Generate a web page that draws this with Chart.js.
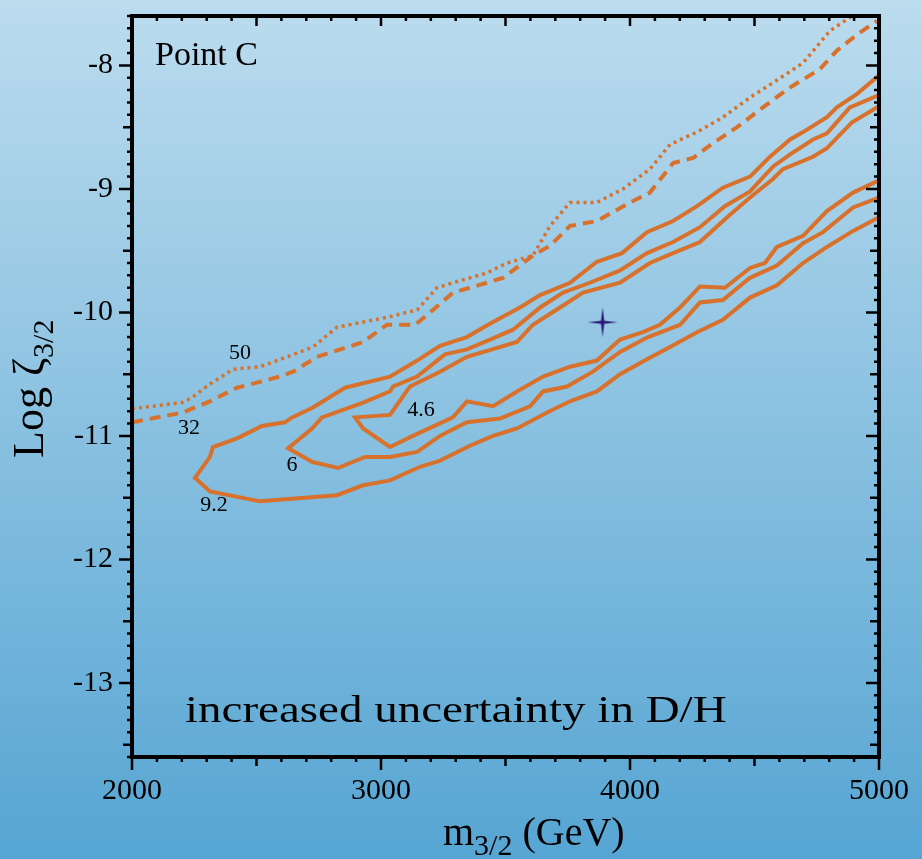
<!DOCTYPE html>
<html>
<head>
<meta charset="utf-8">
<title>Point C</title>
<script src="https://cdn.jsdelivr.net/npm/chart.js@4.4.0/dist/chart.umd.min.js"></script>
<style>
  html, body { margin: 0; padding: 0; overflow: hidden; }
  canvas { display: block; }
</style>
</head>
<body>
<canvas id="myChart" width="922" height="859"></canvas>
<script>
// axis ticks
const xTicks = [2000, 3000, 4000, 5000];
const yTicks = [-13, -12, -11, -10, -9, -8];

// contours, [m3/2 (GeV), log zeta3/2]
const contour50 = [
  [2000,-10.78],[2201,-10.73],[2241,-10.69],[2313,-10.58],[2406,-10.46],[2514,-10.44],
  [2622,-10.36],[2727,-10.28],[2823,-10.12],[3024,-10.04],[3145,-9.98],[3225,-9.80],
  [3289,-9.76],[3426,-9.68],[3506,-9.60],[3610,-9.54],[3679,-9.30],[3759,-9.11],
  [3867,-9.11],[3972,-9.00],[4080,-8.84],[4161,-8.64],[4269,-8.54],[4373,-8.42],
  [4482,-8.26],[4590,-8.12],[4695,-7.98],[4803,-7.72],[4892,-7.60]
];
const contour32 = [
  [2000,-10.89],[2205,-10.81],[2313,-10.72],[2422,-10.61],[2594,-10.52],[2647,-10.48],
  [2743,-10.36],[2928,-10.24],[3024,-10.10],[3137,-10.10],[3197,-10.00],[3289,-9.84],
  [3426,-9.76],[3490,-9.72],[3610,-9.54],[3679,-9.46],[3759,-9.30],[3867,-9.26],
  [4000,-9.11],[4080,-9.03],[4173,-8.79],[4253,-8.75],[4333,-8.63],[4430,-8.50],
  [4534,-8.34],[4642,-8.18],[4763,-8.03],[4831,-7.88],[4912,-7.75],[4992,-7.64]
];
const contour9_2 = [
  [5000,-8.08],[4912,-8.23],[4831,-8.34],[4791,-8.42],[4695,-8.54],[4643,-8.60],
  [4562,-8.74],[4482,-8.90],[4373,-8.99],[4269,-9.14],[4173,-9.26],[4068,-9.35],
  [3968,-9.52],[3867,-9.59],[3759,-9.76],[3639,-9.86],[3558,-9.96],[3430,-10.10],
  [3345,-10.20],[3237,-10.27],[3145,-10.39],[3036,-10.52],[2855,-10.61],[2727,-10.77],
  [2643,-10.85],[2614,-10.89],[2522,-10.92],[2422,-11.02],[2325,-11.09],[2313,-11.17],
  [2253,-11.34],
  [2313,-11.45],[2514,-11.53],[2823,-11.48],[2928,-11.40],[3036,-11.36],[3157,-11.25],
  [3237,-11.20],[3357,-11.08],[3450,-11.00],[3546,-10.94],[3667,-10.81],[3759,-10.72],
  [3867,-10.64],[3960,-10.50],[4068,-10.38],[4161,-10.28],[4269,-10.16],[4373,-10.06],
  [4482,-9.88],[4590,-9.78],[4695,-9.60],[4791,-9.47],[4896,-9.34],[5000,-9.23]
];
const contour6 = [
  [5000,-8.24],[4883,-8.34],[4791,-8.55],[4735,-8.60],[4643,-8.72],[4574,-8.82],
  [4482,-9.02],[4381,-9.14],[4281,-9.31],[4173,-9.43],[4068,-9.52],[3960,-9.66],
  [3839,-9.76],[3731,-9.84],[3639,-9.96],[3530,-10.14],[3438,-10.22],[3345,-10.30],
  [3257,-10.34],[3145,-10.52],[3048,-10.60],[3036,-10.64],[2928,-10.73],[2763,-10.85],
  [2723,-10.94],[2627,-11.10],
  [2723,-11.21],[2827,-11.26],[2936,-11.17],[3036,-11.17],[3145,-11.13],[3237,-11.00],
  [3345,-10.89],[3478,-10.86],[3598,-10.76],[3651,-10.64],[3747,-10.60],[3851,-10.48],
  [3960,-10.32],[4072,-10.20],[4201,-10.10],[4281,-9.92],[4373,-9.90],[4482,-9.72],
  [4590,-9.62],[4695,-9.44],[4775,-9.35],[4896,-9.15],[5000,-9.07]
];
const contour4_6 = [
  [5000,-8.33],[4892,-8.46],[4791,-8.67],[4735,-8.74],[4614,-8.84],[4574,-8.92],
  [4482,-9.07],[4390,-9.23],[4281,-9.43],[4173,-9.52],[4080,-9.60],[3960,-9.76],
  [3811,-9.84],[3719,-9.96],[3610,-10.10],[3546,-10.24],[3345,-10.36],[3237,-10.48],
  [3116,-10.60],[3036,-10.83],[2896,-10.85],
  [2928,-10.94],[3036,-11.09],[3128,-11.00],[3289,-10.85],[3345,-10.72],[3450,-10.76],
  [3546,-10.64],[3651,-10.52],[3759,-10.44],[3867,-10.39],[3960,-10.22],[4052,-10.16],
  [4120,-10.10],[4201,-9.96],[4281,-9.79],[4381,-9.80],[4482,-9.64],[4542,-9.60],
  [4590,-9.47],[4695,-9.38],[4791,-9.18],[4896,-9.03],[5000,-8.93]
];

// best fit point
const bestFit = [[3890, -10.08]];

// contour labels and where they sit (data coords)
const contourLabels = ['50', '32', '9.2', '6', '4.6'];
const labelSpots = [[2434,-10.33],[2229,-10.94],[2329,-11.56],[2643,-11.24],[3161,-10.79]];

const ORANGE = '#d8712b';
const SERIF = '"Liberation Serif", "Times New Roman", serif';

function toXY(arr){
  return arr.map(p => ({x: p[0], y: p[1]}));
}

// thin four pointed star for the best fit marker
function makeStar(){
  const c = document.createElement('canvas');
  c.width = 34; c.height = 34;
  const g = c.getContext('2d');
  const m = 17, r = 15, w = 1.6;
  g.fillStyle = '#2a1577';
  g.beginPath();
  g.moveTo(m, m - r);
  g.lineTo(m + w, m - w);
  g.lineTo(m + r, m);
  g.lineTo(m + w, m + w);
  g.lineTo(m, m + r);
  g.lineTo(m - w, m + w);
  g.lineTo(m - r, m);
  g.lineTo(m - w, m - w);
  g.closePath();
  g.fill();
  return c;
}

const frame = {
  id: 'frame',
  beforeDraw(chart){
    const {ctx, width, height} = chart;
    const grad = ctx.createLinearGradient(0, 0, 0, height);
    grad.addColorStop(0, '#bcdcee');
    grad.addColorStop(1, '#56a5d3');
    ctx.save();
    ctx.fillStyle = grad;
    ctx.fillRect(0, 0, width, height);
    ctx.restore();
  },
  afterDatasetsDraw(chart){
    const {ctx, chartArea: a, scales: {x, y}} = chart;
    ctx.save();
    ctx.strokeStyle = '#000';
    ctx.lineWidth = 2.5;
    ctx.beginPath();
    for (let v = 2000; v <= 5000; v += 100){
      const px = x.getPixelForValue(v);
      const down = v % 1000 === 0 ? 13 : v % 500 === 0 ? 9 : 5;
      const up = v % 500 === 0 ? 10 : 5;
      ctx.moveTo(px, a.bottom); ctx.lineTo(px, a.bottom + down);
      ctx.moveTo(px, a.top); ctx.lineTo(px, a.top + up);
    }
    for (let k = -136; k <= -76; k++){
      const py = y.getPixelForValue(k / 10);
      const len = k % 10 === 0 ? 13 : k % 5 === 0 ? 9 : 5;
      ctx.moveTo(a.left, py); ctx.lineTo(a.left - len, py);
      ctx.moveTo(a.right, py); ctx.lineTo(a.right - len, py);
    }
    ctx.stroke();
    ctx.lineWidth = 4;
    ctx.strokeRect(a.left, a.top, a.right - a.left, a.bottom - a.top);
    ctx.restore();
  }
};

const texts = {
  id: 'texts',
  afterDraw(chart){
    const {ctx, chartArea: a, scales: {x, y}} = chart;
    ctx.save();
    ctx.fillStyle = '#000';

    // contour values
    ctx.textAlign = 'center';
    ctx.textBaseline = 'middle';
    ctx.font = '22px ' + SERIF;
    contourLabels.forEach((t, i) => {
      ctx.fillText(t, x.getPixelForValue(labelSpots[i][0]), y.getPixelForValue(labelSpots[i][1]));
    });

    ctx.textAlign = 'left';
    ctx.textBaseline = 'alphabetic';
    ctx.font = '34px ' + SERIF;
    ctx.fillText('Point C', a.left + 23, a.top + 49);

    ctx.save();
    ctx.translate(a.left + 53, a.top + 706);
    ctx.scale(1, 0.8);
    ctx.font = '47px ' + SERIF;
    ctx.fillText('increased uncertainty in D/H', 0, 0);
    ctx.restore();

    // x title with subscript
    let cx = a.left + 311;
    const by = a.bottom + 88;
    ctx.font = '40px ' + SERIF;
    ctx.fillText('m', cx, by);
    cx += ctx.measureText('m').width;
    ctx.font = '30px ' + SERIF;
    ctx.fillText('3/2', cx, by + 10);
    cx += ctx.measureText('3/2').width;
    ctx.font = '40px ' + SERIF;
    ctx.fillText(' (GeV)', cx, by);

    // y title, rotated
    ctx.save();
    ctx.translate(a.left - 89, a.top + 442);
    ctx.rotate(-Math.PI / 2);
    ctx.font = '44px ' + SERIF;
    ctx.fillText('Log \u03B6', 0, 0);
    const w = ctx.measureText('Log \u03B6').width;
    ctx.font = '30px ' + SERIF;
    ctx.fillText('3/2', w, 10);
    ctx.restore();

    ctx.restore();
  }
};

const solid = {borderColor: ORANGE, borderWidth: 4, pointRadius: 0, fill: false, tension: 0};

const data = {
  datasets: [
    {label: '50', data: toXY(contour50), ...solid, borderWidth: 3.5, borderDash: [3, 4]},
    {label: '32', data: toXY(contour32), ...solid, borderDash: [11, 7]},
    {label: '9.2', data: toXY(contour9_2), ...solid},
    {label: '6', data: toXY(contour6), ...solid},
    {label: '4.6', data: toXY(contour4_6), ...solid},
    {label: 'best fit', data: toXY(bestFit), showLine: false, pointStyle: makeStar(), pointRadius: 15}
  ]
};

const tickFont = {family: SERIF, size: 30};

const config = {
  type: 'line',
  data: data,
  options: {
    responsive: false,
    animation: false,
    layout: {padding: {top: 8, right: 43, left: 0, bottom: 0}},
    plugins: {legend: {display: false}, tooltip: {enabled: false}},
    scales: {
      x: {
        type: 'linear',
        min: 2000,
        max: 5000,
        afterBuildTicks: s => { s.ticks = xTicks.map(v => ({value: v})); },
        afterFit: s => { s.height = 102; s.paddingLeft = 0; s.paddingRight = 0; },
        ticks: {font: tickFont, color: '#000', padding: 16, maxRotation: 0, autoSkip: false,
                callback: v => String(v)},
        grid: {display: false, drawTicks: false},
        border: {display: false}
      },
      y: {
        type: 'linear',
        min: -13.6,
        max: -7.6,
        afterBuildTicks: s => { s.ticks = yTicks.map(v => ({value: v})); },
        afterFit: s => { s.width = 132; s.paddingTop = 0; s.paddingBottom = 0; },
        ticks: {font: tickFont, color: '#000', padding: 19, autoSkip: false,
                callback: v => String(v)},
        grid: {display: false, drawTicks: false},
        border: {display: false}
      }
    }
  },
  plugins: [frame, texts]
};

let myChart = new Chart(document.getElementById('myChart'), config);
</script>
</body>
</html>
